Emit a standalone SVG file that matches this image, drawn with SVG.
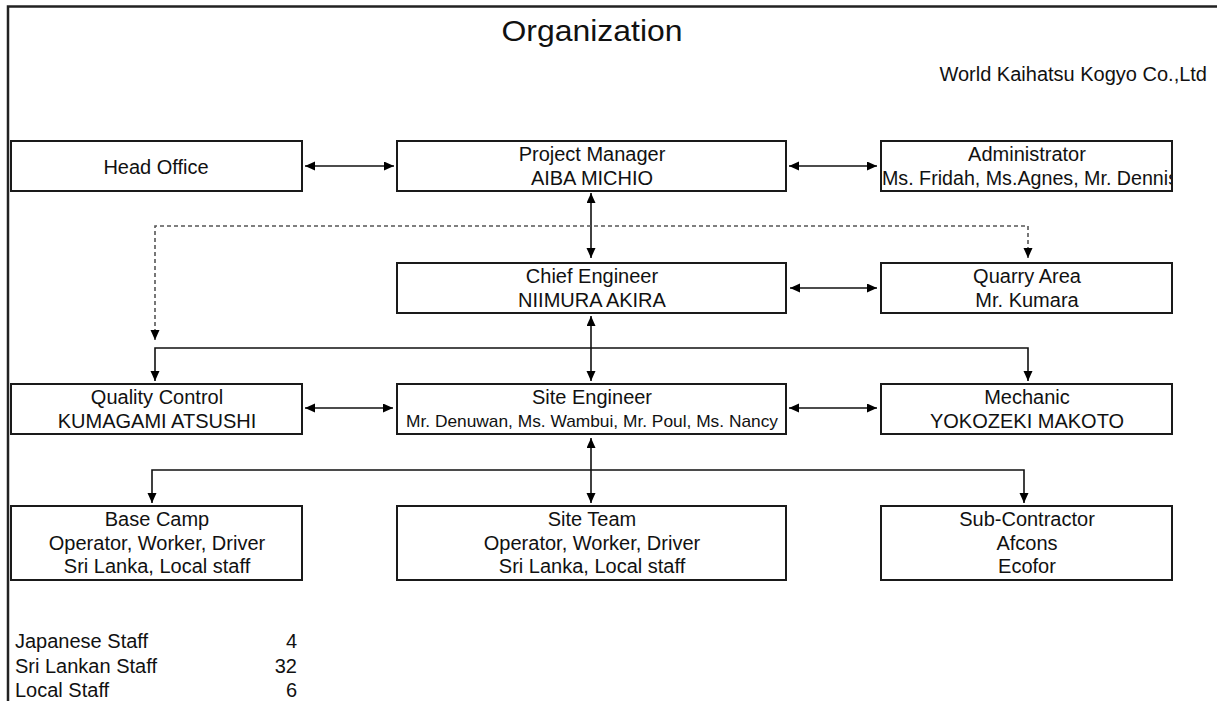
<svg xmlns="http://www.w3.org/2000/svg" width="1217" height="701" viewBox="0 0 1217 701">
<style>
.box{fill:#fff;stroke:#1a1a1a;stroke-width:2}
.t{font-family:"Liberation Sans",Arial,sans-serif;font-size:20px;fill:#111;text-anchor:middle}
.s{font-family:"Liberation Sans",Arial,sans-serif;font-size:20px;fill:#111}
.c{fill:none;stroke:#111;stroke-width:1.6}
.d{fill:none;stroke:#555;stroke-width:1.6;stroke-dasharray:4 3}
</style>
<defs>
<marker id="ah" markerUnits="userSpaceOnUse" markerWidth="11" markerHeight="10" refX="10" refY="4.5" orient="auto-start-reverse">
<path d="M0,0 L10,4.5 L0,9 z" fill="#000"/>
</marker>
<clipPath id="admclip"><rect x="882" y="142" width="289" height="48"/></clipPath>
</defs>
<rect width="1217" height="701" fill="#fff"/>
<g id="frame">
<path d="M8,701 V6.5 H1217" fill="none" stroke="#222" stroke-width="2.5"/>
</g>
<g id="title">
<text x="592" y="41" class="t" style="font-size:29px" textLength="181" lengthAdjust="spacingAndGlyphs">Organization</text>
<text x="1207" y="81" class="s" text-anchor="end" style="text-anchor:end">World Kaihatsu Kogyo Co.,Ltd</text>
</g>
<g id="connectors">
<line class="c" x1="305" y1="166" x2="394" y2="166" marker-start="url(#ah)" marker-end="url(#ah)"/>
<line class="c" x1="789" y1="166" x2="877" y2="166" marker-start="url(#ah)" marker-end="url(#ah)"/>
<line class="c" x1="591" y1="193" x2="591" y2="258" marker-start="url(#ah)" marker-end="url(#ah)"/>
<path class="d" d="M1028,258 V226 H155 V340" marker-start="url(#ah)" marker-end="url(#ah)"/>
<line class="c" x1="790" y1="288" x2="877" y2="288" marker-start="url(#ah)" marker-end="url(#ah)"/>
<line class="c" x1="591" y1="316" x2="591" y2="381" marker-start="url(#ah)" marker-end="url(#ah)"/>
<path class="c" d="M155,381 V348 H1028 V381" marker-start="url(#ah)" marker-end="url(#ah)"/>
<line class="c" x1="305" y1="408" x2="393" y2="408" marker-start="url(#ah)" marker-end="url(#ah)"/>
<line class="c" x1="789" y1="408" x2="877" y2="408" marker-start="url(#ah)" marker-end="url(#ah)"/>
<line class="c" x1="591" y1="438" x2="591" y2="503" marker-start="url(#ah)" marker-end="url(#ah)"/>
<path class="c" d="M152,503 V470 H1024 V503" marker-start="url(#ah)" marker-end="url(#ah)"/>
</g>
<g id="head-office">
<rect class="box" x="11" y="141" width="291" height="50"/>
<text class="t" x="156" y="174">Head Office</text>
</g>
<g id="project-manager">
<rect class="box" x="397" y="141" width="389" height="50"/>
<text class="t" x="592" y="161">Project Manager</text>
<text class="t" x="592" y="185">AIBA MICHIO</text>
</g>
<g id="administrator">
<rect class="box" x="881" y="141" width="291" height="50"/>
<text class="t" x="1027" y="161">Administrator</text>
<text class="s" x="882" y="185" clip-path="url(#admclip)" textLength="296" lengthAdjust="spacingAndGlyphs">Ms. Fridah, Ms.Agnes, Mr. Dennis</text>
</g>
<g id="chief-engineer">
<rect class="box" x="397" y="263" width="389" height="50"/>
<text class="t" x="592" y="283">Chief Engineer</text>
<text class="t" x="592" y="307">NIIMURA AKIRA</text>
</g>
<g id="quarry-area">
<rect class="box" x="881" y="263" width="291" height="50"/>
<text class="t" x="1027" y="283">Quarry Area</text>
<text class="t" x="1027" y="307">Mr. Kumara</text>
</g>
<g id="quality-control">
<rect class="box" x="11" y="384" width="291" height="50"/>
<text class="t" x="157" y="404">Quality Control</text>
<text class="t" x="157" y="428">KUMAGAMI ATSUSHI</text>
</g>
<g id="site-engineer">
<rect class="box" x="397" y="384" width="389" height="50"/>
<text class="t" x="592" y="404">Site Engineer</text>
<text class="t" x="592" y="427" style="font-size:17px" textLength="372" lengthAdjust="spacingAndGlyphs">Mr. Denuwan, Ms. Wambui, Mr. Poul, Ms. Nancy</text>
</g>
<g id="mechanic">
<rect class="box" x="881" y="384" width="291" height="50"/>
<text class="t" x="1027" y="404">Mechanic</text>
<text class="t" x="1027" y="428">YOKOZEKI MAKOTO</text>
</g>
<g id="base-camp">
<rect class="box" x="11" y="506" width="291" height="74"/>
<text class="t" x="157" y="526">Base Camp</text>
<text class="t" x="157" y="550">Operator, Worker, Driver</text>
<text class="t" x="157" y="573">Sri Lanka, Local staff</text>
</g>
<g id="site-team">
<rect class="box" x="397" y="506" width="389" height="74"/>
<text class="t" x="592" y="526">Site Team</text>
<text class="t" x="592" y="550">Operator, Worker, Driver</text>
<text class="t" x="592" y="573">Sri Lanka, Local staff</text>
</g>
<g id="sub-contractor">
<rect class="box" x="881" y="506" width="291" height="74"/>
<text class="t" x="1027" y="526">Sub-Contractor</text>
<text class="t" x="1027" y="550">Afcons</text>
<text class="t" x="1027" y="573">Ecofor</text>
</g>
<g id="staff-count">
<text class="s" x="15" y="648">Japanese Staff</text>
<text class="s" x="297" y="648" text-anchor="end">4</text>
<text class="s" x="15" y="673">Sri Lankan Staff</text>
<text class="s" x="297" y="673" text-anchor="end">32</text>
<text class="s" x="15" y="697">Local Staff</text>
<text class="s" x="297" y="697" text-anchor="end">6</text>
</g>
</svg>
